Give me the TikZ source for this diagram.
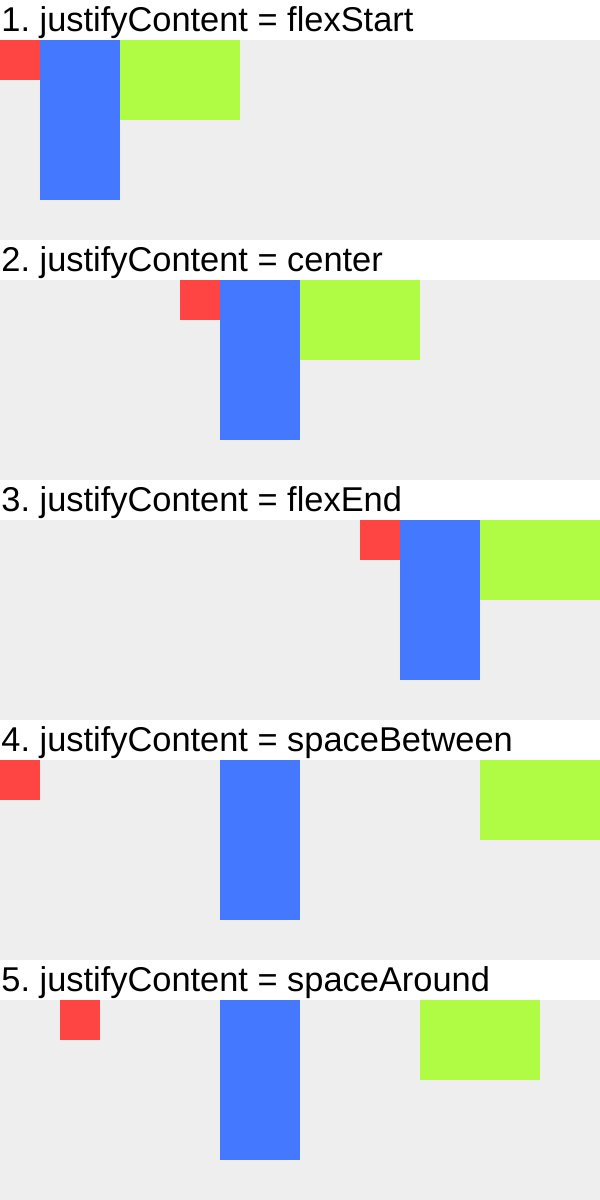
\documentclass[tikz,border=0pt]{standalone}
\usepackage{fontspec}
\setmainfont{Liberation Sans}
\definecolor{boxred}{HTML}{FF4444}
\definecolor{boxblue}{HTML}{4479FF}
\definecolor{boxgreen}{HTML}{B0FB44}
\definecolor{panelgray}{HTML}{EEEEEE}
\tikzset{caption/.style={anchor=base west, inner sep=0pt}}
\frenchspacing
\begin{document}
\begin{tikzpicture}[x=0.5pt, y=-0.5pt, font=\fontsize{17.2}{20}\selectfont]
\useasboundingbox (0,0) rectangle (600,1200); \fill[white] (0,0) rectangle (600,1200);
\foreach \i/\mode/\rx/\bx/\gx in {1/flexStart/0/40/120, 2/center/180/220/300, 3/flexEnd/360/400/480, 4/spaceBetween/0/220/480, 5/spaceAround/60/220/420} {
\begin{scope}[shift={(0,{(\i-1)*240})}]
\fill[panelgray] (0,40) rectangle (600,240); \node[caption] (title\i) at (1,31) {\i.\ justifyContent = \mode};
\fill[boxred] (\rx,40) rectangle ++(40,40); \fill[boxblue] (\bx,40) rectangle ++(80,160); \fill[boxgreen] (\gx,40) rectangle ++(120,80);
\end{scope}
}
\end{tikzpicture}
\end{document}
